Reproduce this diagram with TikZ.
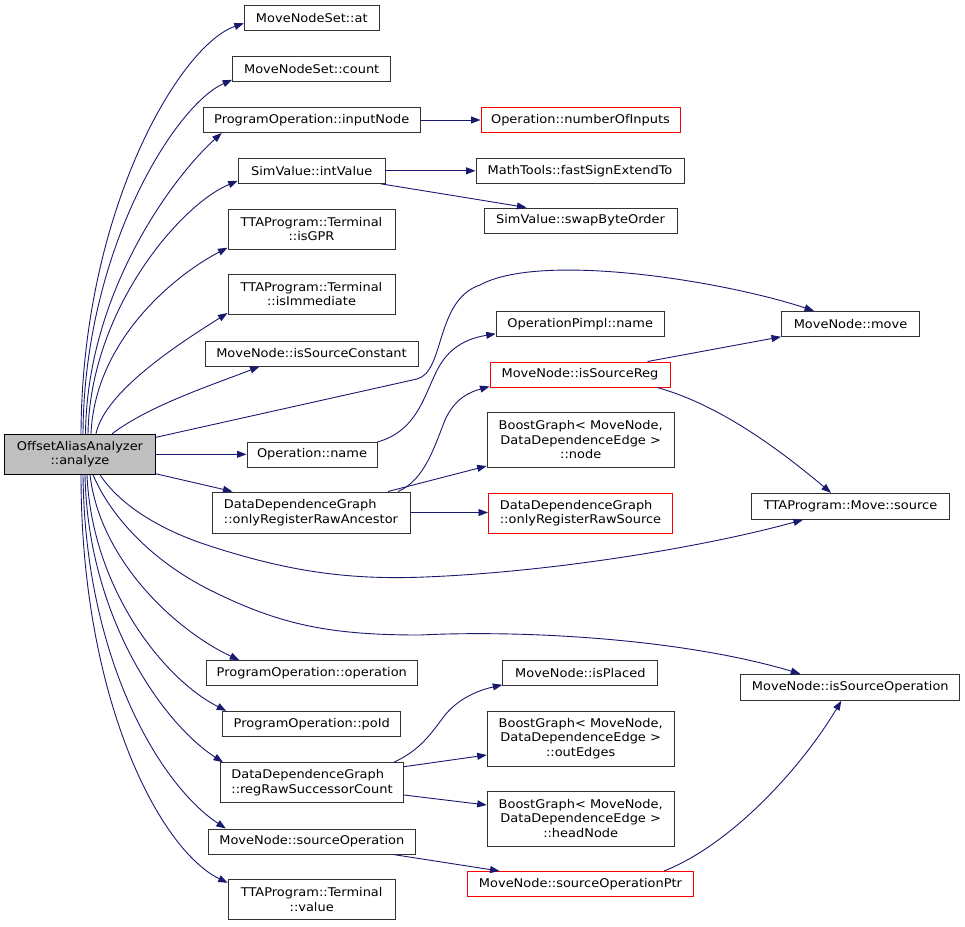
\documentclass[tikz,border=0pt]{standalone}
\usepackage{fontspec}
\setmainfont{DejaVu Sans}[FakeStretch=1.08]
\usetikzlibrary{calc,arrows.meta}
\newcommand\nodefont{\fontsize{12}{14.5}\selectfont}
\definecolor{edgeblue}{HTML}{191970}
\definecolor{bordergray}{HTML}{333333}
\definecolor{mainfill}{HTML}{BFBFBF}
\tikzset{
  box/.style={draw=bordergray, line width=1pt, inner sep=0pt, font=\nodefont, align=center, fill=white},
  redbox/.style={box, draw=red},
  lbox/.style={align=left},
  wh/.style 2 args={minimum width=#1pt, minimum height=#2pt},
  edge/.style={draw=edgeblue, line width=0.9pt, -{Triangle[length=9.5pt,width=7pt]}}
}
\begin{document}
\begin{tikzpicture}[x=1pt,y=-1pt]
\fill[white] (0,0) rectangle (965,926);
\useasboundingbox (0,0) rectangle (965,926);

% nodes
\node[box, fill=mainfill, draw=black, wh={151}{40}] (main) at (80,454.3) {OffsetAliasAnalyzer\\::analyze};
\node[box, wh={135}{25}] (at) at (311.8,18.3) {MoveNodeSet::at};
\node[box, wh={158}{25}] (count) at (311.7,69.3) {MoveNodeSet::count};
\node[box, wh={217}{25}] (inputNode) at (311.7,120) {ProgramOperation::inputNode};
\node[box, wh={147}{25}] (intValue) at (311.7,170.8) {SimValue::intValue};
\node[box, wh={167}{40}] (isGPR) at (311.5,229.2) {TTAProgram::Terminal\\::isGPR};
\node[box, wh={167}{40}] (isImm) at (311.5,294) {TTAProgram::Terminal\\::isImmediate};
\node[box, wh={213}{25}] (isSC) at (311.5,353.5) {MoveNode::isSourceConstant};
\node[box, wh={130}{25}] (opname) at (312,454.5) {Operation::name};
\node[box, lbox, wh={198}{41}] (ora) at (311,512.5) {DataDependenceGraph\\::onlyRegisterRawAncestor};
\node[box, wh={211}{25}] (operation) at (311.8,673.2) {ProgramOperation::operation};
\node[box, wh={178}{25}] (poId) at (311.8,723.8) {ProgramOperation::poId};
\node[box, lbox, wh={183}{40}] (regRaw) at (312,782.7) {DataDependenceGraph\\::regRawSuccessorCount};
\node[box, wh={207}{25}] (srcOp) at (311.8,841.5) {MoveNode::sourceOperation};
\node[box, wh={167}{40}] (termVal) at (311.7,899.3) {TTAProgram::Terminal\\::value};

\node[redbox, wh={199}{25}] (numIn) at (580.5,120) {Operation::numberOfInputs};
\node[box, wh={208}{25}] (fastSign) at (580,170.8) {MathTools::fastSignExtendTo};
\node[box, wh={193}{25}] (swapByte) at (580.5,220.5) {SimValue::swapByteOrder};
\node[box, wh={168}{25}] (opPimpl) at (580.2,323.8) {OperationPimpl::name};
\node[redbox, wh={180}{25}] (isSR) at (580,374.5) {MoveNode::isSourceReg};
\node[box, wh={187}{55}] (bgnode) at (580.7,440) {BoostGraph< MoveNode,\\DataDependenceEdge >\\::node};
\node[redbox, lbox, wh={184}{40}] (orsrc) at (580.5,513) {DataDependenceGraph\\::onlyRegisterRawSource};
\node[box, wh={155}{25}] (isPlaced) at (580.3,673.2) {MoveNode::isPlaced};
\node[box, wh={187}{55}] (outEdges) at (580.7,738.5) {BoostGraph< MoveNode,\\DataDependenceEdge >\\::outEdges};
\node[box, wh={187}{55}] (headNode) at (580.7,818.5) {BoostGraph< MoveNode,\\DataDependenceEdge >\\::headNode};
\node[redbox, wh={226}{25}] (sopPtr) at (580.5,884) {MoveNode::sourceOperationPtr};

\node[box, wh={138}{25}] (move) at (850.5,323.8) {MoveNode::move};
\node[box, wh={198}{26}] (source) at (850.5,506.3) {TTAProgram::Move::source};
\node[box, wh={219}{26}] (isSO) at (850.3,687.3) {MoveNode::isSourceOperation};

% edges from main, upward
\draw[edge] ($(main.north)+(1,0)$) .. controls (82,210) and (180,45) .. ($(at.south west)+(0,-8)$);
\draw[edge] ($(main.north)+(3,0)$) .. controls (84,250) and (175,105) .. ($(count.south west)+(0,-2.5)$);
\draw[edge] ($(main.north)+(5.5,0)$) .. controls (87,290) and (175,175) .. ($(inputNode.south west)+(19,0)$);
\draw[edge] ($(main.north)+(8,0)$) .. controls (90,310) and (180,205) .. ($(intValue.south west)+(0,-3)$);
\draw[edge] ($(main.north)+(11,0)$) .. controls (95,340) and (175,275) .. ($(isGPR.south west)+(0,-2)$);
\draw[edge] ($(main.north)+(16,0)$) .. controls (105,390) and (185,340) .. ($(isImm.south west)+(0,-1.5)$);
\draw[edge] ($(main.north)+(32,0)$) .. controls (150,405) and (215,384) .. ($(isSC.south west)+(55,0)$);
\draw[edge] ($(main.east)+(0,-17)$) -- (417,379) .. controls (445,372) and (435,300) .. (480,285)
  .. controls (540,252) and (720,280) .. ($(move.north west)+(33,0)$);
\draw[edge] (main.east) -- (main.east -| opname.west);
\draw[edge] ($(main.south east)+(0,-1)$) -- ($(ora.north west)+(21,0)$);
\draw[edge] ($(main.south)+(20,0)$) .. controls (120,505) and (160,530) .. (210,546)
  .. controls (290,572) and (350,580) .. (425,577)
  .. controls (550,572) and (700,548) .. ($(source.south west)+(52,0)$);
\draw[edge] ($(main.south)+(13,0)$) .. controls (110,515) and (150,560) .. (210,590)
  .. controls (280,625) and (330,635) .. (420,635)
  .. controls (520,630) and (680,638) .. ($(isSO.north west)+(60,0)$);
% edges from main, downward
\draw[edge] ($(main.south)+(10,0)$) .. controls (100,560) and (175,630) .. ($(operation.north west)+(33.5,0)$);
\draw[edge] ($(main.south)+(7,0)$) .. controls (92,590) and (165,680) .. ($(poId.north west)+(4,0)$);
\draw[edge] ($(main.south)+(5,0)$) .. controls (88,620) and (165,725) .. ($(regRaw.north west)+(3,0)$);
\draw[edge] ($(main.south)+(3,0)$) .. controls (85,660) and (160,785) .. ($(srcOp.north west)+(18,0)$);
\draw[edge] ($(main.south)+(1,0)$) .. controls (81,700) and (160,850) .. ($(termVal.north west)+(0,4)$);

% column 1 -> column 2
\draw[edge] (inputNode.east) -- (inputNode.east -| numIn.west);
\draw[edge] (intValue.east) -- (intValue.east -| fastSign.west);
\draw[edge] ($(intValue.south east)+(-5,0)$) -- ($(swapByte.north west)+(43,0)$);
\draw[edge] ($(opname.north east)+(0,0.5)$) .. controls (420,430) and (425,390) .. (440,365)
  .. controls (452,345) and (470,338) .. ($(opPimpl.south west)+(0,-3)$);
\draw[edge] ($(ora.north)+(87,0)$) .. controls (425,480) and (435,445) .. (445,420)
  .. controls (455,398) and (470,392) .. ($(isSR.south west)+(0,-1)$);
\draw[edge] ($(ora.north)+(77,0)$) -- ($(bgnode.south west)+(0,-2)$);
\draw[edge] (ora.east) -- (ora.east -| orsrc.west);
\draw[edge] ($(regRaw.north east)+(-10,0)$) .. controls (420,750) and (430,735) .. (445,715)
  .. controls (460,697) and (480,690) .. ($(isPlaced.south west)+(0,-1.4)$);
\draw[edge] ($(regRaw.east)+(0,-16)$) -- ($(outEdges.west)+(0,16.5)$);
\draw[edge] ($(regRaw.east)+(0,12.3)$) -- ($(headNode.west)+(0,-13.5)$);
\draw[edge] ($(srcOp.south east)+(-22.6,0)$) -- ($(sopPtr.north west)+(32.5,0)$);

% column 2 -> column 3
\draw[edge] ($(isSR.north west)+(158,0)$) -- (move.south west);
\draw[edge] ($(isSR.south east)+(-13.3,0)$) .. controls (720,405) and (780,450) .. ($(source.north west)+(80,0)$);
\draw[edge] ($(sopPtr.north east)+(-30,0)$) .. controls (730,845) and (800,770) .. ($(isSO.south west)+(101,0)$);
\end{tikzpicture}
\end{document}
